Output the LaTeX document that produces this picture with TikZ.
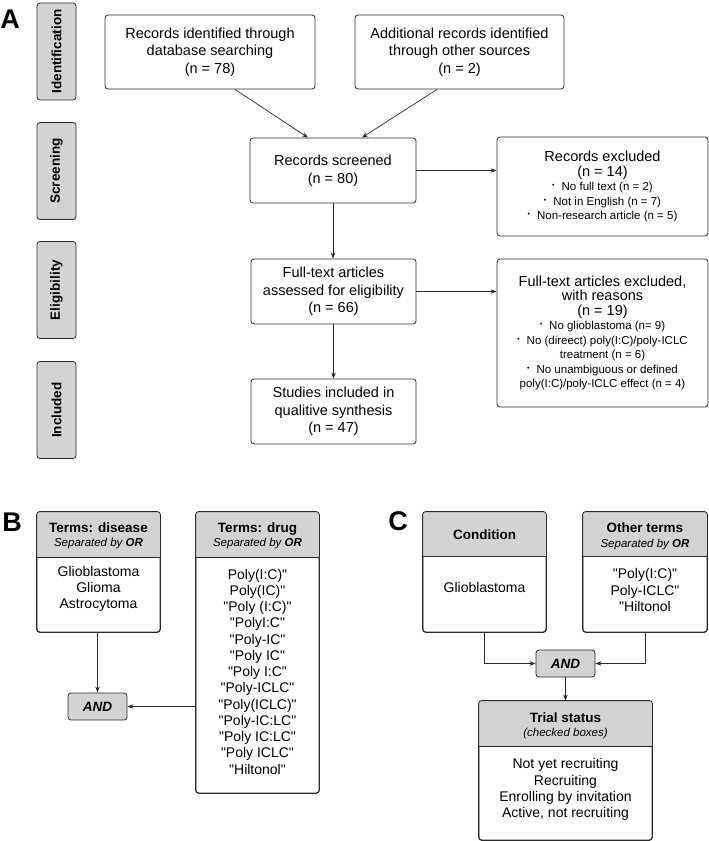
\documentclass[tikz,border=0pt]{standalone}
\usepackage{fontspec}
\setmainfont{Liberation Sans}[Ligatures=TeXOff]
\usetikzlibrary{arrows.meta}
\definecolor{hdrgrey}{HTML}{D3D3D3}
\definecolor{edge}{HTML}{2B2B2B}
\newcommand{\fsz}[2]{\fontsize{#1}{#2}\selectfont}
\newcommand{\bul}{\raisebox{3pt}{\fsz{7}{7}•}\hspace{7pt}}
\newcommand{\hdrfill}[2]{%
  \begin{scope}
    \clip[rounded corners=3pt] (#1.south west) rectangle (#1.north east);
    \fill[hdrgrey] (#1.north west) rectangle (#1.east |- 0,#2);
  \end{scope}
  \draw[edge, line width=0.8pt] (#1.west |- 0,#2) -- (#1.east |- 0,#2);
  \draw[edge, line width=0.8pt, rounded corners=3pt] (#1.south west) rectangle (#1.north east);
}
\tikzset{
  box/.style={draw=edge, line width=0.8pt, rounded corners=3pt, fill=white, inner sep=0pt, align=center, font=\fsz{14.5}{17.5}},
  exbox/.style={box, font=\fsz{14.5}{14.5}},
  stagebox/.style={draw=edge, line width=0.8pt, rounded corners=3pt, fill=hdrgrey, rotate=90, minimum width=97pt, minimum height=39pt, inner sep=0pt, font=\bfseries\fsz{13.5}{16}},
  frame/.style={draw=edge, line width=0.8pt, rounded corners=3pt, fill=white, inner sep=0pt},
  hd/.style={anchor=base, font=\bfseries\fsz{13.5}{16}},
  sub/.style={anchor=base, font=\itshape\fsz{11.5}{14}},
  body/.style={align=center, inner sep=0pt, font=\fsz{14}{16.25}},
  andbox/.style={draw=edge, line width=0.8pt, rounded corners=3pt, fill=hdrgrey, inner sep=0pt, minimum width=59pt, minimum height=27pt, font=\bfseries\itshape\fsz{13.5}{16}},
  letter/.style={font=\bfseries\fsz{27}{30}, inner sep=0pt},
  arr/.style={-{Stealth[length=6pt,width=4.5pt]}, line width=0.7pt, draw=edge},
}
\begin{document}
\begin{tikzpicture}[x=1pt,y=-1pt]
\useasboundingbox (0,0) rectangle (709,841);

% ---------- Panel A ----------
\node[letter] (lA) at (10,19) {A};
\node[stagebox] (sId) at (56.5,51.5) {Identification};
\node[stagebox] (sSc) at (56.5,171) {Screening};
\node[stagebox] (sEl) at (56.5,290) {Eligibility};
\node[stagebox] (sIn) at (56.5,410) {Included};

\node[box, minimum width=210pt, minimum height=74pt] (id) at (210,52)
  {Records identified through\\database searching\\(n = 78)};
\node[box, minimum width=209pt, minimum height=74pt] (add) at (459.5,52)
  {Additional records identified\\through other sources\\(n = 2)};
\node[box, minimum width=166pt, minimum height=65pt] (scr) at (333,170.5)
  {Records screened\\(n = 80)};
\node[exbox, minimum width=211pt, minimum height=99pt] (exc) at (602.5,186.5)
  {Records excluded\\(n = 14)\\
   {\fsz{11.5}{14.5}\bul No full text (n = 2)}\\
   {\fsz{11.5}{14.5}\bul Not in English (n = 7)}\\
   {\fsz{11.5}{14.5}\bul Non-research article (n = 5)}};
\node[box, minimum width=165pt, minimum height=65pt] (ft) at (333.5,291.5)
  {Full-text articles\\assessed for eligibility\\(n = 66)};
\node[exbox, minimum width=211pt, minimum height=148pt] (exc2) at (602.5,333)
  {Full-text articles excluded,\\with reasons\\(n = 19)\\
   {\fsz{11.5}{14.5}\bul No glioblastoma (n= 9)}\\
   {\fsz{11.5}{14.5}\bul No (direect) poly(I:C)/poly-ICLC}\\
   {\fsz{11.5}{14.5}treatment (n = 6)}\\
   {\fsz{11.5}{14.5}\bul No unambiguous or defined}\\
   {\fsz{11.5}{14.5}poly(I:C)/poly-ICLC effect (n = 4)}};
\node[box, minimum width=165pt, minimum height=65pt] (inc) at (333.5,411.5)
  {Studies included in\\qualitive synthesis\\(n = 47)};

\draw[arr] ([xshift=25pt]id.south) -- ([xshift=-25pt]scr.north);
\draw[arr] ([xshift=-22.5pt]add.south) -- ([xshift=29pt]scr.north);
\draw[arr] (scr.east) -- (scr.east -| exc.west);
\draw[arr] (scr.south) -- (ft.north -| scr.south);
\draw[arr] (ft.east) -- (ft.east -| exc2.west);
\draw[arr] (ft.south) -- (inc.north);

% ---------- Panel B ----------
\node[letter] (lB) at (12,522) {B};
\node[frame, minimum width=123pt, minimum height=120pt] (dis) at (98.5,572) {};
\hdrfill{dis}{557}
\node[hd] (disH) at (98.5,532) {Terms: disease};
\node[sub] (disS) at (98.5,546) {Separated by \textbf{OR}};
\node[body] (disB) at (98.5,589) {Glioblastoma\\Glioma\\Astrocytoma};

\node[frame, minimum width=123pt, minimum height=281pt] (drug) at (257.5,652.5) {};
\hdrfill{drug}{557}
\node[hd] (drugH) at (257.5,532) {Terms: drug};
\node[sub] (drugS) at (257.5,546) {Separated by \textbf{OR}};
\node[body] (drugB) at (257.5,671.5)
  {Poly(I:C)"\\Poly(IC)"\\"Poly (I:C)"\\"PolyI:C"\\"Poly-IC"\\"Poly IC"\\"Poly I:C"\\"Poly-ICLC"\\"Poly(ICLC)"\\"Poly-IC:LC"\\"Poly IC:LC"\\"Poly ICLC"\\"Hiltonol"};

\node[andbox] (andB) at (97.5,706.5) {AND};
\draw[arr] (dis.south -| andB.north) -- (andB.north);
\draw[arr] (drug.west |- andB.east) -- (andB.east);

% ---------- Panel C ----------
\node[letter] (lC) at (398,521) {C};
\node[frame, minimum width=123pt, minimum height=120pt] (cond) at (484.5,572) {};
\hdrfill{cond}{556}
\node[hd] (condH) at (484.5,539) {Condition};
\node[body] (condB) at (484.5,587) {Glioblastoma};

\node[frame, minimum width=124pt, minimum height=120pt] (oth) at (645,572) {};
\hdrfill{oth}{556}
\node[hd] (othH) at (645,532) {Other terms};
\node[sub] (othS) at (645,547) {Separated by \textbf{OR}};
\node[body] (othB) at (645,590) {"Poly(I:C)"\\Poly-ICLC"\\"Hiltonol};

\node[andbox] (andC) at (565.5,663.5) {AND};
\draw[arr] (cond.south) |- (andC.west);
\draw[arr] (oth.south) |- (andC.east);

\node[frame, minimum width=173pt, minimum height=139pt] (trial) at (565.5,770.5) {};
\hdrfill{trial}{746}
\node[hd] (trialH) at (565.5,722) {Trial status};
\node[sub] (trialS) at (565.5,736) {(checked boxes)};
\node[body] (trialB) at (565.5,789.5)
  {Not yet recruiting\\Recruiting\\Enrolling by invitation\\Active, not recruiting};
\draw[arr] (andC.south) -- (trial.north);
\end{tikzpicture}
\end{document}
